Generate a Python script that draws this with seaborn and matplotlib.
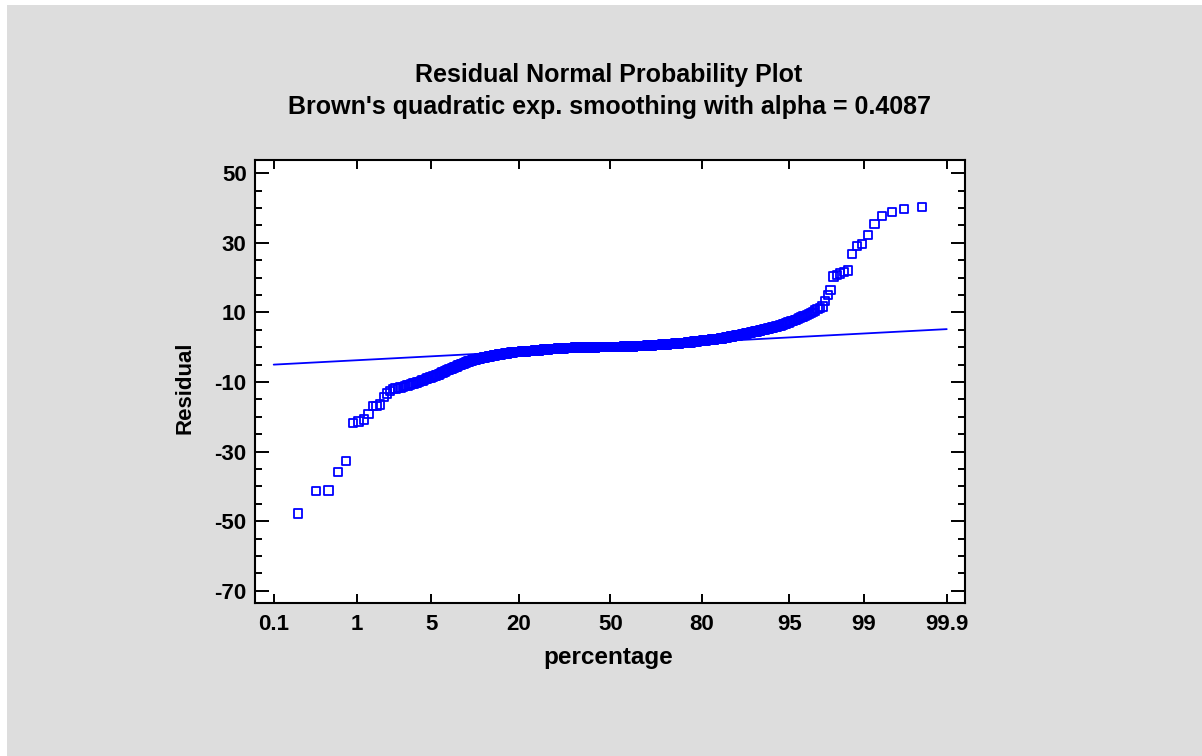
import numpy as np
import pandas as pd
import matplotlib
matplotlib.use("Agg")
import matplotlib.pyplot as plt
from matplotlib.patches import Rectangle
from matplotlib.ticker import MultipleLocator
import seaborn as sns
from statistics import NormalDist

# ---------------- data ----------------
title_line1 = "Residual Normal Probability Plot"
title_line2 = "Brown's quadratic exp. smoothing with alpha = 0.4087"
x_label = "percentage"
y_label = "Residual"

pct_ticks = [0.1, 1, 5, 20, 50, 80, 95, 99, 99.9]
pct_tick_labels = ["0.1", "1", "5", "20", "50", "80", "95", "99", "99.9"]
y_major_ticks = [-70, -50, -30, -10, 10, 30, 50]

# reference line (percentage, residual)
line_pct = [0.1, 99.9]
line_resid = [-5.0, 5.2]

# sorted residuals
lower_tail = [
    -47.8, -41.3, -41.2, -35.9, -32.7, -21.8, -21.3, -20.8, -19.1, -16.9,
    -16.8, -16.5, -14.3, -13.3, -12.5, -12.1, -11.9, -11.8, -11.6, -11.4,
    -11.2, -11.0, -10.8, -10.6, -10.4, -10.3, -10.1, -9.9, -9.7, -9.6,
    -9.4, -9.2, -9.0, -8.9, -8.7, -8.5, -8.4, -8.2, -8.1, -7.9,
    -7.8, -7.6, -7.4, -7.3, -7.1, -7.0, -6.8, -6.6, -6.5, -6.3,
    -6.2, -6.1, -5.9, -5.8, -5.7, -5.6, -5.5, -5.3, -5.2, -5.1,
    -5.0, -4.9, -4.8, -4.7, -4.5, -4.4, -4.3, -4.2, -4.1, -4.0,
    -3.94, -3.88, -3.82, -3.75, -3.69, -3.63, -3.57, -3.51, -3.45, -3.38,
    -3.32, -3.26, -3.2, -3.16, -3.11, -3.07, -3.03, -2.99, -2.94, -2.9,
    -2.86, -2.81, -2.77, -2.73, -2.69, -2.64, -2.6, -2.56, -2.51, -2.47,
    -2.43, -2.39, -2.34, -2.3, -2.27, -2.24, -2.22, -2.19, -2.16, -2.13,
    -2.1, -2.07, -2.05, -2.02, -1.99, -1.96, -1.93, -1.91, -1.88, -1.85,
    -1.82, -1.79, -1.77, -1.74, -1.71, -1.68, -1.65, -1.62, -1.6, -1.57,
    -1.54, -1.51, -1.48, -1.46, -1.43, -1.4,
]

middle = [
    -1.4, -1.4, -1.4, -1.4,
    -1.3, -1.3, -1.3, -1.3, -1.3, -1.3, -1.3, -1.3, -1.3,
    -1.2, -1.2, -1.2, -1.2, -1.2, -1.2, -1.2, -1.2, -1.2,
    -1.1, -1.1, -1.1, -1.1, -1.1, -1.1, -1.1, -1.1,
    -1.0, -1.0, -1.0, -1.0, -1.0, -1.0, -1.0, -1.0, -1.0,
    -0.9, -0.9, -0.9, -0.9, -0.9, -0.9, -0.9, -0.9, -0.9,
    -0.8, -0.8, -0.8, -0.8, -0.8, -0.8, -0.8, -0.8, -0.8, -0.8,
    -0.7, -0.7, -0.7, -0.7, -0.7, -0.7, -0.7, -0.7, -0.7, -0.7,
    -0.6, -0.6, -0.6, -0.6, -0.6, -0.6, -0.6, -0.6, -0.6, -0.6,
    -0.5, -0.5, -0.5, -0.5, -0.5, -0.5, -0.5, -0.5, -0.5, -0.5, -0.5, -0.5,
    -0.4, -0.4, -0.4, -0.4, -0.4, -0.4, -0.4, -0.4, -0.4, -0.4, -0.4, -0.4, -0.4, -0.4,
    -0.3, -0.3, -0.3, -0.3, -0.3, -0.3, -0.3, -0.3, -0.3, -0.3, -0.3, -0.3, -0.3,
    -0.2, -0.2, -0.2, -0.2, -0.2, -0.2, -0.2, -0.2, -0.2, -0.2, -0.2, -0.2, -0.2, -0.2,
    -0.1, -0.1, -0.1, -0.1, -0.1, -0.1, -0.1, -0.1, -0.1, -0.1,
    -0.1, -0.1, -0.1, -0.1, -0.1, -0.1, -0.1, -0.1, -0.1, -0.1,
    -0.1, -0.1, -0.1, -0.1, -0.1, -0.1, -0.1, -0.1, -0.1, -0.1,
    -0.1, -0.1, -0.1, -0.1, -0.1, -0.1, -0.1, -0.1, -0.1, -0.1,
    -0.1, -0.1, -0.1, -0.1, -0.1, -0.1, -0.1, -0.1, -0.1, -0.1,
    -0.1, -0.1, -0.1,
    0.0, 0.0, 0.0, 0.0, 0.0, 0.0, 0.0, 0.0, 0.0, 0.0,
    0.0, 0.0, 0.0, 0.0, 0.0, 0.0, 0.0, 0.0, 0.0, 0.0,
    0.0, 0.0, 0.0, 0.0, 0.0, 0.0, 0.0, 0.0, 0.0, 0.0,
    0.0, 0.0, 0.0, 0.0, 0.0, 0.0, 0.0, 0.0, 0.0, 0.0,
    0.1, 0.1, 0.1, 0.1, 0.1, 0.1, 0.1, 0.1, 0.1, 0.1,
    0.1, 0.1, 0.1, 0.1, 0.1, 0.1, 0.1, 0.1, 0.1, 0.1,
    0.1, 0.1, 0.1, 0.1, 0.1, 0.1, 0.1, 0.1, 0.1, 0.1,
    0.1, 0.1, 0.1, 0.1, 0.1,
    0.2, 0.2, 0.2, 0.2, 0.2, 0.2, 0.2, 0.2, 0.2, 0.2,
    0.2, 0.2, 0.2, 0.2, 0.2, 0.2, 0.2, 0.2, 0.2, 0.2,
    0.2, 0.2, 0.2, 0.2, 0.2,
    0.3, 0.3, 0.3, 0.3, 0.3, 0.3, 0.3, 0.3, 0.3, 0.3,
    0.3, 0.3, 0.3, 0.3, 0.3, 0.3, 0.3, 0.3, 0.3, 0.3,
    0.4, 0.4, 0.4, 0.4, 0.4, 0.4, 0.4, 0.4, 0.4, 0.4,
    0.4, 0.4, 0.4, 0.4, 0.4,
    0.5, 0.5, 0.5, 0.5, 0.5, 0.5, 0.5, 0.5, 0.5, 0.5, 0.5, 0.5,
    0.6, 0.6, 0.6, 0.6, 0.6, 0.6, 0.6, 0.6, 0.6, 0.6, 0.6, 0.6,
    0.7, 0.7, 0.7, 0.7, 0.7, 0.7, 0.7, 0.7, 0.7, 0.7, 0.7, 0.7,
    0.8, 0.8, 0.8, 0.8, 0.8, 0.8, 0.8, 0.8, 0.8, 0.8, 0.8, 0.8,
    0.9, 0.9, 0.9, 0.9, 0.9, 0.9, 0.9, 0.9, 0.9,
    1.0, 1.0, 1.0, 1.0, 1.0, 1.0, 1.0, 1.0, 1.0,
    1.1, 1.1, 1.1, 1.1, 1.1, 1.1, 1.1, 1.1, 1.1,
    1.2, 1.2, 1.2, 1.2, 1.2, 1.2, 1.2, 1.2, 1.2,
    1.3, 1.3, 1.3, 1.3, 1.3, 1.3, 1.3, 1.3,
    1.4, 1.4, 1.4, 1.4, 1.4, 1.4, 1.4,
    1.5, 1.5, 1.5, 1.5, 1.5, 1.5,
    1.6, 1.6, 1.6, 1.6, 1.6, 1.6,
    1.7, 1.7, 1.7, 1.7, 1.7, 1.7,
    1.8, 1.8, 1.8, 1.8, 1.8,
    1.9, 1.9, 1.9, 1.9, 1.9,
    2.0, 2.0, 2.0, 2.0, 2.0,
    2.1, 2.1, 2.1, 2.1, 2.1,
    2.2, 2.2, 2.2, 2.2, 2.2,
    2.3, 2.3, 2.3, 2.3, 2.3,
    2.4, 2.4, 2.4, 2.4,
]

upper_tail = [
    2.44, 2.48, 2.51, 2.55, 2.59, 2.63, 2.67, 2.7, 2.74, 2.78,
    2.82, 2.86, 2.89, 2.93, 2.97, 3.01, 3.05, 3.08, 3.12, 3.16,
    3.2, 3.24, 3.27, 3.31, 3.35, 3.39, 3.43, 3.46, 3.5,
    3.55, 3.6, 3.66, 3.71, 3.76, 3.81, 3.87, 3.92, 3.97, 4.02,
    4.07, 4.13, 4.18, 4.23, 4.28, 4.33, 4.39, 4.44, 4.49, 4.54,
    4.59, 4.65, 4.7,
    4.78, 4.86, 4.93, 5.01, 5.09, 5.17, 5.24, 5.32, 5.4, 5.48,
    5.56, 5.63, 5.71, 5.79, 5.87, 5.94, 6.02, 6.1,
    6.25, 6.4, 6.55, 6.7, 6.85, 7.0, 7.15, 7.3, 7.45, 7.6, 7.75, 7.9,
    8.1, 8.35, 8.6, 8.8, 9.05, 9.3, 9.5,
    9.8, 10.1, 10.6, 11.0, 11.3, 11.7, 13.3, 15.0, 16.5, 20.3,
    20.8, 21.2, 21.6, 22.0, 26.8, 29.0, 29.6, 32.3, 35.5, 37.8,
    38.8, 39.8, 40.3,
]

# ---------------- prepare ----------------
residuals = np.sort(np.array(lower_tail + middle + upper_tail, dtype=float))
n = len(residuals)
nd = NormalDist()
ranks = np.arange(1, n + 1)
probs = (ranks + 0.5) / (n + 2)
df = pd.DataFrame({
    "z": [nd.inv_cdf(p) for p in probs],
    "resid": residuals,
})
line_df = pd.DataFrame({
    "z": [nd.inv_cdf(p / 100.0) for p in line_pct],
    "resid": line_resid,
})
tick_z = [nd.inv_cdf(p / 100.0) for p in pct_ticks]

# ---------------- plot ----------------
sns.set_style("ticks")
plt.rcParams["font.family"] = ["Liberation Sans", "DejaVu Sans"]
plt.rcParams["font.weight"] = "bold"
plt.rcParams["text.color"] = "black"
plt.rcParams["axes.labelcolor"] = "black"
plt.rcParams["xtick.color"] = "black"
plt.rcParams["ytick.color"] = "black"

W, H = 1202, 756
fig = plt.figure(figsize=(W / 100, H / 100), dpi=100)
fig.patch.set_facecolor("white")
fig.add_artist(Rectangle((7 / W, 0), 1 - 7 / W, 1 - 5 / H,
                         transform=fig.transFigure, facecolor="#DDDDDD",
                         edgecolor="none", zorder=-10))

ax = fig.add_axes([255 / W, 1 - 603 / H, 710 / W, 443 / H])
ax.set_facecolor("white")

blue = "#0000FF"
sns.lineplot(data=line_df, x="z", y="resid", ax=ax, color=blue, lw=1.3,
             legend=False)
sns.scatterplot(data=df, x="z", y="resid", ax=ax, marker="s", s=36,
                color=blue, facecolors="none", edgecolor=blue,
                linewidth=1.3, legend=False)

ax.set_xlim(-3.262, 3.258)
ax.set_ylim(-73.5, 53.8)
ax.set_xticks(tick_z)
ax.set_xticklabels(pct_tick_labels)
ax.set_yticks(y_major_ticks)
ax.set_yticklabels([str(v) for v in y_major_ticks])
ax.yaxis.set_minor_locator(MultipleLocator(5))

for s in ax.spines.values():
    s.set_visible(True)
    s.set_linewidth(1.5)
    s.set_color("black")

ax.tick_params(which="both", direction="in", top=True, right=True,
               bottom=True, left=True, color="black", width=1.4,
               labelcolor="black")
ax.tick_params(axis="x", which="major", length=6.5, labelsize=16, pad=8)
ax.tick_params(axis="x", which="minor", length=0)
ax.tick_params(axis="y", which="major", length=10, labelsize=16, pad=6)
ax.tick_params(axis="y", which="minor", length=5)
for lab in ax.get_xticklabels() + ax.get_yticklabels():
    lab.set_fontweight("bold")

ax.set_xlabel(x_label, fontsize=17.5, fontweight="bold", va="center",
              color="black")
ax.xaxis.set_label_coords(0.497, -0.124)
ax.set_ylabel(y_label, fontsize=16, fontweight="bold", va="center",
              color="black")
ax.yaxis.set_label_coords(-0.0986, 0.485)

fig.text(609 / W, 1 - 75 / H, title_line1, ha="center", va="center",
         fontsize=18, fontweight="bold", color="black")
fig.text(609 / W, 1 - 107 / H, title_line2, ha="center", va="center",
         fontsize=18, fontweight="bold", color="black")

fig.savefig("out.png", dpi=100, facecolor=fig.get_facecolor())
